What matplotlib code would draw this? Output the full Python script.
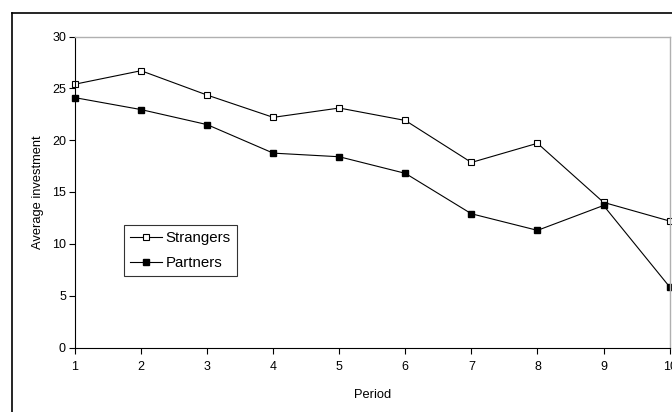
import matplotlib
matplotlib.use("Agg")
import matplotlib.pyplot as plt
from matplotlib.lines import Line2D

plt.rcParams['font.family'] = ['Liberation Sans', 'DejaVu Sans']

periods = [1, 2, 3, 4, 5, 6, 7, 8, 9, 10]
strangers = [25.4, 26.7, 24.35, 22.2, 23.1, 21.9, 17.85, 19.7, 14.0, 12.2]
partners = [24.1, 22.95, 21.5, 18.75, 18.4, 16.8, 12.9, 11.3, 13.7, 5.85]
y_ticks = [0, 5, 10, 15, 20, 25, 30]

W, H = 672, 412
fig = plt.figure(figsize=(W / 100, H / 100), dpi=100)
ax = fig.add_axes([75 / W, 1 - 347.5 / H, (669.6 - 75) / W, (347.5 - 36.5) / H])

ax.plot(periods, strangers, color='black', lw=0.8, marker='s', ms=4.6,
        mfc='white', mec='black', mew=0.8, label='Strangers', clip_on=False)
ax.plot(periods, partners, color='black', lw=0.8, marker='s', ms=5.0,
        mfc='black', mec='black', label='Partners', clip_on=False)

ax.set_xlim(1, 10)
ax.set_ylim(0, 30)
ax.set_xticks(periods)
ax.set_yticks(y_ticks)
ax.tick_params(labelsize=9, length=4, width=0.8, color='black')
ax.tick_params(axis='y', pad=2.5)
ax.tick_params(axis='x', pad=5.5)

for side in ['top', 'right']:
    ax.spines[side].set_color('#b0b0b0')
    ax.spines[side].set_linewidth(1.0)
for side in ['left', 'bottom']:
    ax.spines[side].set_color('black')
    ax.spines[side].set_linewidth(0.8)

ax.set_xlabel('Period', fontsize=9.3, labelpad=12)
ax.set_ylabel('Average investment', fontsize=9.3, labelpad=6)

leg = ax.legend(loc='upper left', bbox_to_anchor=(124 / W, 1 - 225 / H),
                bbox_transform=fig.transFigure, prop={'size': 10.8},
                frameon=True, fancybox=False, edgecolor='black',
                handlelength=2.1, handletextpad=0.25, borderpad=0.42,
                labelspacing=0.7, borderaxespad=0)
leg.get_frame().set_linewidth(0.8)

# outer chart frame (partly cut off at right and bottom)
fig.add_artist(Line2D([12 / W, 12 / W], [0, 1 - 13 / H], color='black',
                      lw=1.2, transform=fig.transFigure))
fig.add_artist(Line2D([12 / W, 1], [1 - 13 / H, 1 - 13 / H], color='black',
                      lw=1.2, transform=fig.transFigure))

fig.savefig('out.png', dpi=100)
